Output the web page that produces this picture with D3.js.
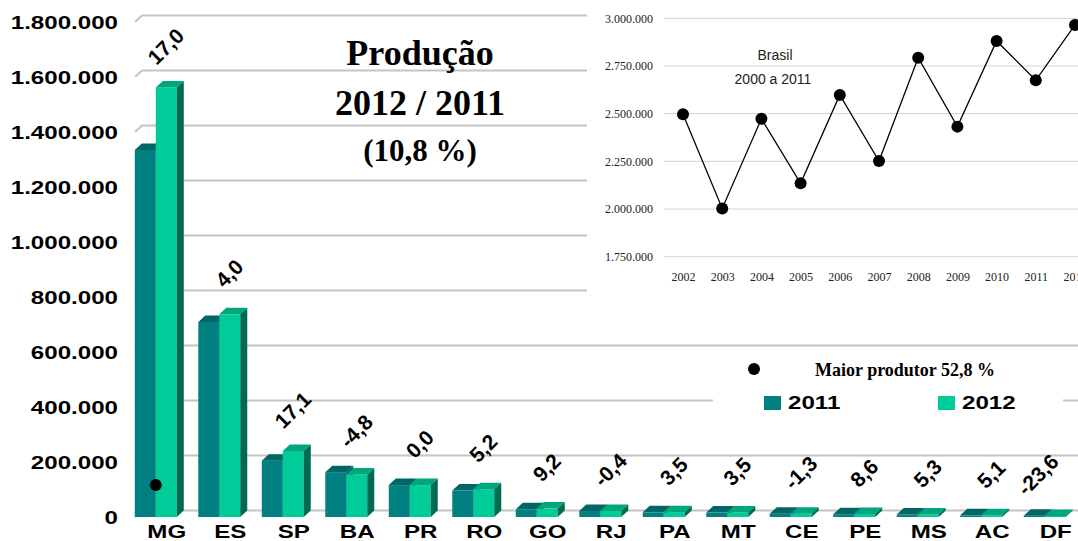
<!DOCTYPE html>
<html><head><meta charset="utf-8">
<script src="https://cdn.jsdelivr.net/npm/d3@7"></script>
<style>
html,body{margin:0;padding:0;background:#fff;}
svg{display:block;}
</style>
</head><body>
<svg id="chart" width="1078" height="541"></svg>
<script>
// ---------- data ----------
const categories = ["MG","ES","SP","BA","PR","RO","GO","RJ","PA","MT","CE","PE","MS","AC","DF"];
const values2011 = [1335000, 709000, 205000, 163000, 116000, 96000, 28000, 22000, 17000, 16000, 12000, 10000, 9000, 6000, 5000];
const values2012 = [1562000, 737000, 240000, 155000, 116000, 101000, 30600, 21900, 17600, 16560, 11840, 10860, 9480, 6300, 3820];
const variation = ["17,0","4,0","17,1","-4,8","0,0","5,2","9,2","-0,4","3,5","3,5","-1,3","8,6","5,3","5,1","-23,6"];
const yTicks = [0,200000,400000,600000,800000,1000000,1200000,1400000,1600000,1800000];
const seriesNames = ["2011","2012"];

const years = [2002,2003,2004,2005,2006,2007,2008,2009,2010,2011,2012];
const brasilTotal = [2497000,2003000,2473000,2135000,2598000,2252000,2793000,2432000,2881000,2675000,2965000];
const insetTicks = [1750000,2000000,2250000,2500000,2750000,3000000];

const titleLines = ["Produção","2012 / 2011","(10,8 %)"];
const legendLeader = "Maior produtor 52,8 %";
const leaderCategory = "MG";

// ---------- setup ----------
const svg = d3.select("#chart");
const W = 1078, H = 541;
const fmt = d3.formatLocale({decimal:",", thousands:".", grouping:[3], currency:["",""]}).format(",d");
const SANS = "'Liberation Sans', Arial, sans-serif";
const SERIF = "'Liberation Serif', 'Times New Roman', serif";
const STRETCH = 1.34;
const colFront = ["#008080","#00CC99"];
const colTop   = ["#006666","#00A67C"];
const colSide  = ["#005A5A","#006B4F"];
const DX = 7, DY = 6.5;

const y = d3.scaleLinear().domain([0,1800000]).range([517,22]);
const x0 = d3.scaleBand().domain(categories).range([124,1076.5]).paddingInner(0.339).paddingOuter(0.17);
const x1 = d3.scaleBand().domain(seriesNames).range([0,x0.bandwidth()]);

// gridlines (back wall + floor slant)
const grid = svg.append("g");
yTicks.forEach(t=>{
  const yf = y(t), yb = y(t)-DY;
  grid.append("path")
    .attr("d",`M${x0.range()[0]+11},${yf}L${x0.range()[0]+11+DX},${yb}L${W},${yb}`)
    .attr("fill","none").attr("stroke","#c4c4c4").attr("stroke-width",2);
});

// y axis
const yAxis = svg.append("g").attr("transform","translate(118,0)")
  .call(d3.axisLeft(y).tickValues(yTicks).tickSize(0).tickPadding(0).tickFormat(fmt));
yAxis.select(".domain").remove();
yAxis.selectAll("text")
  .attr("font-family",SANS).attr("font-weight","bold").attr("font-size",18).attr("fill","#000")
  .attr("x",0).attr("dy","0.36em")
  .attr("transform",`scale(${STRETCH},1)`);

// bars
const data = categories.map((c,i)=>({cat:c, vals:[values2011[i],values2012[i]], label:variation[i]}));
const bars = svg.append("g");
data.forEach(d=>{
  d.vals.forEach((v,k)=>{
    const xs = x0(d.cat)+x1(seriesNames[k]);
    const w = x1.bandwidth();
    const yt = y(v), yb = y(0);
    const g = bars.append("g");
    g.append("rect").attr("x",xs).attr("y",yt).attr("width",w).attr("height",yb-yt).attr("fill",colFront[k]);
    g.append("path").attr("d",`M${xs},${yt}L${xs+DX},${yt-DY}L${xs+w+DX},${yt-DY}L${xs+w},${yt}Z`).attr("fill",colTop[k]);
    g.append("path").attr("d",`M${xs+w},${yt}L${xs+w+DX},${yt-DY}L${xs+w+DX},${yb-DY}L${xs+w},${yb}Z`).attr("fill",colSide[k]);
  });
});

// data labels (variation %)
const lab = svg.append("g");
data.forEach(d=>{
  const cx = Math.min(x0(d.cat)+x0.bandwidth()/2+10, W-40);
  const cy = y(d3.max(d.vals))-41;
  lab.append("text").attr("transform",`translate(${cx},${cy}) rotate(-45)`)
    .attr("text-anchor","middle").attr("dy","0.35em")
    .attr("font-family",SANS).attr("font-weight","bold").attr("font-size",21).attr("fill","#000")
    .text(d.label);
});

// leader marker on MG
svg.append("circle")
  .attr("cx",x0(leaderCategory)+x1("2012"))
  .attr("cy",y(0)-32).attr("r",6).attr("fill","#000");

// x axis (category labels)
const xAxisScale = x0.copy().range([x0.range()[0]+11,x0.range()[1]+11]);
const xAxis = svg.append("g").attr("transform","translate(0,525)")
  .call(d3.axisBottom(xAxisScale).tickSize(0).tickPadding(0));
xAxis.select(".domain").remove();
xAxis.selectAll("text")
  .attr("font-family",SANS).attr("font-weight","bold").attr("font-size",18).attr("fill","#000")
  .attr("y",0).attr("dy","0.72em")
  .attr("transform",`scale(${STRETCH},1)`);

// title
const tg = svg.append("g").attr("font-family",SERIF).attr("font-weight","bold").attr("fill","#000").attr("text-anchor","middle");
tg.append("text").attr("x",420).attr("y",65).attr("font-size",36).text(titleLines[0]);
tg.append("text").attr("x",420).attr("y",115).attr("font-size",36).text(titleLines[1]);
tg.append("text").attr("x",420).attr("y",161).attr("font-size",31).text(titleLines[2]);

// ---------- inset: Brasil ----------
svg.append("rect").attr("x",587).attr("y",0).attr("width",W-587).attr("height",299).attr("fill","#fff");
const ix = d3.scaleLinear().domain([2002,2012]).range([683,1075]);
const iy = d3.scaleLinear().domain([1750000,3000000]).range([256.7,18.3]);
const inset = svg.append("g");
insetTicks.forEach(t=>{
  inset.append("line").attr("x1",664).attr("x2",W).attr("y1",iy(t)).attr("y2",iy(t))
    .attr("stroke","#d4d4d4").attr("stroke-width",1);
});
const iyAxis = inset.append("g").attr("transform","translate(653,0)")
  .call(d3.axisLeft(iy).tickValues(insetTicks).tickSize(0).tickPadding(0).tickFormat(fmt));
iyAxis.select(".domain").remove();
iyAxis.selectAll("text").attr("font-family",SERIF).attr("font-size",12).attr("fill","#222").attr("x",0).attr("dy","0.32em");
const ixAxis = inset.append("g").attr("transform","translate(0,281)")
  .call(d3.axisBottom(ix).tickValues(years).tickSize(0).tickPadding(0).tickFormat(d3.format("d")));
ixAxis.select(".domain").remove();
ixAxis.selectAll("text").attr("font-family",SERIF).attr("font-size",12).attr("fill","#222").attr("y",0).attr("dy","0");

const pts = years.map((yr,i)=>[yr,brasilTotal[i]]);
inset.append("path").datum(pts)
  .attr("d",d3.line().x(d=>ix(d[0])).y(d=>iy(d[1])))
  .attr("fill","none").attr("stroke","#000").attr("stroke-width",1.3);
inset.selectAll("circle.m").data(pts).join("circle")
  .attr("cx",d=>ix(d[0])).attr("cy",d=>iy(d[1])).attr("r",6).attr("fill","#000");
inset.append("text").attr("x",775).attr("y",60).attr("text-anchor","middle")
  .attr("font-family",SANS).attr("font-size",14).attr("fill","#222").text("Brasil");
inset.append("text").attr("x",773).attr("y",84).attr("text-anchor","middle")
  .attr("font-family",SANS).attr("font-size",14).attr("fill","#222").text("2000 a 2011");

// ---------- legend ----------
const lg = svg.append("g");
lg.append("rect").attr("x",713).attr("y",356).attr("width",350).attr("height",64).attr("fill","#fff");
lg.append("circle").attr("cx",754).attr("cy",369).attr("r",6).attr("fill","#000");
lg.append("text").attr("x",815).attr("y",376).attr("font-family",SERIF).attr("font-weight","bold")
  .attr("font-size",18).attr("fill","#000").text(legendLeader);
const legX = [764, 938];
seriesNames.forEach((s,k)=>{
  lg.append("rect").attr("x",legX[k]).attr("y",396).attr("width",17).attr("height",14).attr("fill",colFront[k]);
  lg.append("text").attr("transform",`translate(${legX[k]+24},409) scale(${STRETCH},1)`)
    .attr("font-family",SANS).attr("font-weight","bold").attr("font-size",18).attr("fill","#000").text(s);
});
</script>
</body></html>
